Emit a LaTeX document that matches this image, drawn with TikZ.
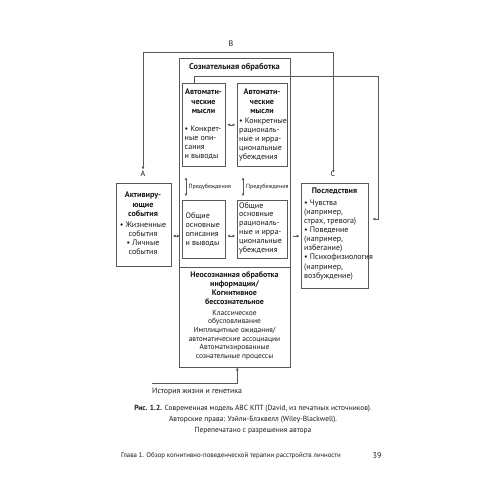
\documentclass[tikz,border=0pt]{standalone}
\usepackage{fontspec}
\setmainfont{PT Sans}
\usetikzlibrary{arrows.meta}
\begin{document}
\begin{tikzpicture}[x=1pt,y=-1pt,
  ln/.style={draw=black!65, line width=0.6pt},
  boxn/.style={ln, rectangle, inner sep=0pt, anchor=north west},
  tx/.style={inner sep=0pt, text=black!90, font=\fontsize{8}{8.9}\selectfont},
  tb/.style={inner sep=0pt, text=black!90, font=\fontsize{8.1}{9.4}\selectfont\bfseries},
  tip/.style={ln, -{Triangle[length=2.8pt,width=2.6pt]}},
  dbl/.style={ln, {Triangle[length=2.5pt,width=2.6pt]}-{Triangle[length=2.5pt,width=2.6pt]}},
]
\useasboundingbox[fill=white] (0,0) rectangle (500,500);

% boxes
\node[boxn, minimum width=111pt, minimum height=209pt] (consc) at (179,58) {};
\node[boxn, minimum width=111pt, minimum height=100pt] (uncon) at (179,267) {};
\node[boxn, minimum width=43pt, minimum height=83pt] (autoL) at (182,83) {};
\node[boxn, minimum width=50pt, minimum height=83pt] (autoR) at (237,83) {};
\node[boxn, minimum width=43pt, minimum height=58pt] (genL) at (182,200) {};
\node[boxn, minimum width=50pt, minimum height=58pt] (genR) at (237,200) {};
\node[boxn, minimum width=55pt, minimum height=83pt] (act) at (115.5,183) {};
\node[boxn, minimum width=67pt, minimum height=105pt] (cons) at (301,183) {};

% texts
\node[tb, font=\fontsize{8.4}{9}\selectfont\bfseries] (conscT) at (234.5,67) {Сознательная обработка};

\node[tb, anchor=north, align=center] (autoLT) at (203.5,89) {Автомати-\\ческие\\мысли};
\node[tx, anchor=north west, align=left] (autoLB) at (184.5,125.5) {• Конкрет-\\ные опи-\\сания\\и выводы};

\node[tb, anchor=north, align=center] (autoRT) at (262,89) {Автомати-\\ческие\\мысли};
\node[tx, anchor=north west, align=left] (autoRB) at (239,118) {• Конкретные\\рациональ-\\ные и ирра-\\циональные\\убеждения};

\node[tx, anchor=north west, align=left] (genLB) at (185.5,212.5) {Общие\\основные\\описания\\и выводы};
\node[tx, anchor=north west, align=left] (genRB) at (239,202) {Общие\\основные\\рациональ-\\ные и ирра-\\циональные\\убеждения};

\node[tx] (labA) at (143,174) {A};
\node[tx] (labC) at (333,174) {C};
\node[tx] (labB) at (231,44) {B};

\node[tb, anchor=north, align=center] (actT) at (143,192) {Активиру-\\ющие\\события};
\node[tx, anchor=north, align=center] (actB) at (143,221.5) {• Жизненные\\события\\• Личные\\события};

\node[tb, anchor=north] (consT) at (334.5,188) {Последствия};
\node[tx, anchor=north west, align=left, font=\fontsize{8}{9.1}\selectfont] (consB) at (304,199.5) {• Чувства\\(например,\\страх, тревога)\\• Поведение\\(например,\\избегание)\\• Психофизиология\\(например,\\возбуждение)};

\node[tb, anchor=north, align=center, font=\fontsize{8}{9}\selectfont\bfseries] (unconT) at (234.5,271) {Неосознанная обработка\\информации/\\Когнитивное\\бессознательное};
\node[tx, anchor=north, align=center, font=\fontsize{7.4}{8.6}\selectfont] (unconB) at (234.5,310) {Классическое\\обусловливание\\Имплицитные ожидания/\\автоматические ассоциации\\Автоматизированные\\сознательные процессы};

\node[tx, font=\fontsize{6}{7}\selectfont, anchor=west] (pred1) at (188.5,187) {Предубеждения};
\node[tx, font=\fontsize{6}{7}\selectfont, anchor=west] (pred2) at (246,187) {Предубеждения};

\node[tx, anchor=north west, font=\fontsize{7.8}{9}\selectfont] (hist) at (152,388) {История жизни и генетика};

\node[tx, anchor=north, align=center, font=\fontsize{7.4}{11}\selectfont] (capt) at (253,405) {\textbf{Рис. 1.2.} Современная модель ABC КПТ (David, из печатных источников).\\Авторские права: Уэйли-Блэквелл (Wiley-Blackwell).\\Перепечатано с разрешения автора};

\node[tx, anchor=west, font=\fontsize{6.8}{8}\selectfont] (foot) at (121,456) {Глава 1. Обзор когнитивно-поведенческой терапии расстройств личности};
\node[tx, font=\fontsize{8.2}{9}\selectfont] (page) at (377,456) {39};

% connectors
\coordinate (bTop) at (143,52);
\draw[tip, shorten >=1.5pt] ([yshift=-1pt]labC.north) |- (bTop) -- (labA.north);

\coordinate (fbNE) at (378,76);
\coordinate (rowF) at (0,219);
\draw[tip] ([xshift=12pt]autoL.north west) |- (fbNE) |- ([xshift=4pt]cons.east |- rowF);

\coordinate (rowA) at (0,236);
\draw[dbl] ([xshift=2pt]act.east |- rowA) -- ([xshift=-2.5pt]genL.west |- rowA);
\draw[dbl] ([xshift=2pt]genL.east |- rowA) -- ([xshift=-2pt]genR.west |- rowA);
\draw[tip] ([xshift=2pt]consc.east |- rowA) -- ([xshift=-1.5pt]cons.west |- rowA);
\draw[dbl] ([xshift=2pt]autoL.east) -- ([xshift=-2pt]autoR.west);

\draw[dbl] ([shift={(4pt,-11pt)}]autoL.south west) -- ([shift={(4pt,4pt)}]genL.north west);
\draw[dbl] ([shift={(6pt,-11pt)}]autoR.south west) -- ([shift={(6pt,4pt)}]genR.north west);

\coordinate (hStart) at (152,383);
\draw[tip] (hStart) -| ([xshift=2.5pt]uncon.south);
\end{tikzpicture}
\end{document}
